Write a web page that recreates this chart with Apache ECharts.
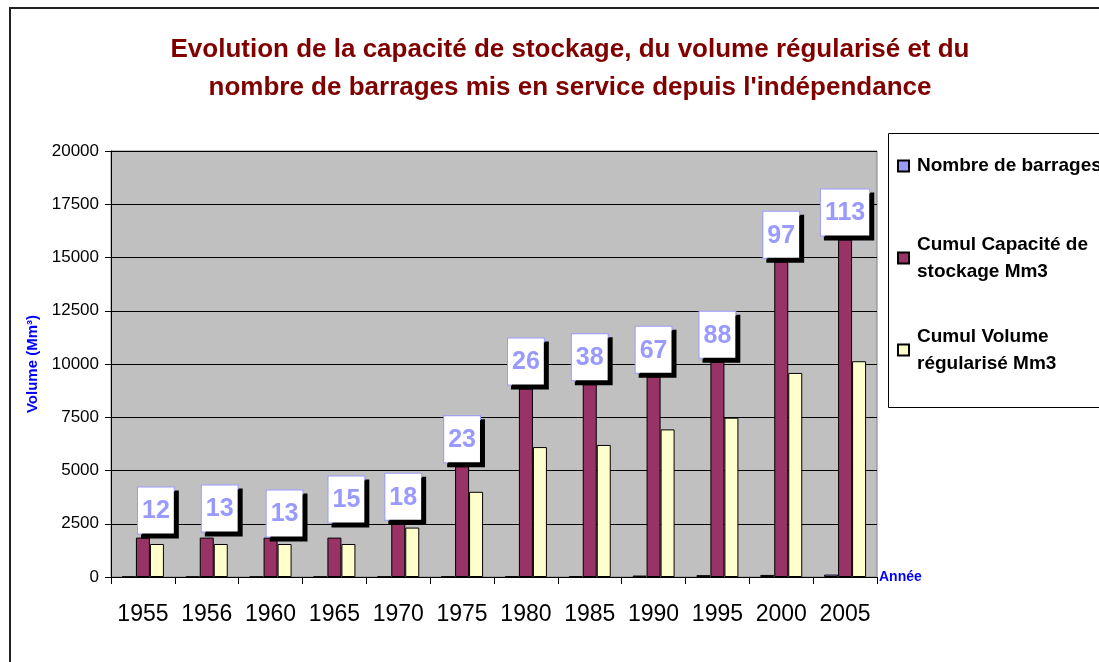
<!DOCTYPE html>
<html>
<head>
<meta charset="utf-8">
<script src="https://cdn.jsdelivr.net/npm/echarts@6/dist/echarts.min.js"></script>
<style>
  html, body { margin: 0; padding: 0; background: #fff; }
  #chart { width: 1099px; height: 662px; }
</style>
</head>
<body>
<div id="chart"></div>
<script>
// Barrages : nombre mis en service, capacité cumulée et volume régularisé (Mm3)
const years = ['1955', '1956', '1960', '1965', '1970', '1975', '1980', '1985', '1990', '1995', '2000', '2005'];
const damCount = [12, 13, 13, 15, 18, 23, 26, 38, 67, 88, 97, 113];
const storageCapacity = [1850, 1850, 1850, 1850, 2500, 5200, 8850, 9050, 9400, 10100, 14800, 15850];
const regulatedVolume = [1550, 1550, 1550, 1550, 2320, 4000, 6100, 6200, 6930, 7480, 9580, 10130];
const volumeTicks = [0, 20000, 2500]; // min, max, interval

// the count boxes were dragged by hand in the original; small nudges [dx, dy] in px
const labelNudge = [[13, 0], [13, -2], [14, 3], [12, -11], [5, 0]];

const FONT = 'Arial, "Liberation Sans", sans-serif';
const NAMES = ['Nombre de barrages', 'Cumul Capacité de stockage Mm3', 'Cumul Volume régularisé Mm3'];
const LEGEND_TEXT = {
  [NAMES[0]]: 'Nombre de barrages',
  [NAMES[1]]: 'Cumul Capacité de\nstockage Mm3',
  [NAMES[2]]: 'Cumul Volume\nrégularisé Mm3',
};

const chart = echarts.init(document.getElementById('chart'), null, { renderer: 'canvas' });

function legendFor(name, top, lines) {
  return {
    data: [name],
    left: 897,
    top: top,
    padding: 0,
    orient: 'vertical',
    icon: 'rect',
    itemWidth: 11,
    itemHeight: 11,
    itemGap: 0,
    selectedMode: false,
    formatter: (n) => LEGEND_TEXT[n],
    textStyle: {
      fontFamily: FONT,
      fontWeight: 'bold',
      fontSize: 19,
      color: '#000',
      lineHeight: 27,
      padding: lines > 1 ? [27, 0, 0, 3] : [0, 0, 0, 3],
    },
    z: 10,
  };
}

const barStyle = (color) => ({ color: color, borderColor: '#000', borderWidth: 1 });

const capacityData = storageCapacity.map((v, i) => {
  const n = labelNudge[i];
  return n ? { value: v, label: { offset: n } } : v;
});

chart.setOption({
  animation: false,
  backgroundColor: '#fff',
  title: {
    text: 'Evolution de la capacité de stockage, du volume régularisé et du\nnombre de barrages mis en service depuis l\'indépendance',
    left: 565,
    top: 26,
    textAlign: 'center',
    textStyle: {
      fontFamily: FONT,
      fontWeight: 'bold',
      fontSize: 26,
      color: '#800000',
      lineHeight: 38,
    },
  },
  legend: [
    legendFor(NAMES[0], 152.5, 1),
    legendFor(NAMES[1], 217.5, 2),
    legendFor(NAMES[2], 309.5, 2),
  ],
  graphic: [
    {
      type: 'rect',
      z: -10,
      silent: true,
      shape: { x: 10, y: 8, width: 1200, height: 800 },
      style: { fill: 'none', stroke: '#222', lineWidth: 2 },
    },
    {
      type: 'rect',
      z: 1,
      silent: true,
      shape: { x: 888.5, y: 133.5, width: 230, height: 274 },
      style: { fill: '#fff', stroke: '#000', lineWidth: 1 },
    },
  ],
  grid: {
    left: 111,
    top: 151,
    width: 766,
    height: 426,
    show: true,
    backgroundColor: '#C0C0C0',
    borderColor: '#808080',
    borderWidth: 1,
  },
  xAxis: {
    type: 'category',
    data: years,
    name: 'Année',
    nameLocation: 'end',
    nameGap: 2,
    nameTextStyle: {
      fontFamily: FONT,
      fontWeight: 'bold',
      fontSize: 14,
      color: '#0000FF',
      padding: [0, 0, 7, 0],
    },
    axisLine: { lineStyle: { color: '#000', width: 1 } },
    axisTick: { show: true, length: 7, interval: 0, lineStyle: { color: '#000' } },
    axisLabel: {
      fontFamily: FONT,
      fontSize: 23,
      color: '#000',
      margin: 26,
      interval: 0,
    },
  },
  yAxis: {
    type: 'value',
    min: volumeTicks[0],
    max: volumeTicks[1],
    interval: volumeTicks[2],
    name: 'Volume (Mm³)',
    nameLocation: 'middle',
    nameRotate: 90,
    nameGap: 70,
    nameTextStyle: {
      fontFamily: FONT,
      fontWeight: 'bold',
      fontSize: 15,
      color: '#0000FF',
    },
    axisLine: { show: true, lineStyle: { color: '#000', width: 1 } },
    axisTick: { show: true, length: 6, lineStyle: { color: '#000' } },
    axisLabel: {
      fontFamily: FONT,
      fontSize: 17,
      color: '#000',
      margin: 12,
      formatter: (v) => String(v),
    },
    splitLine: { show: true, lineStyle: { color: '#000', width: 1 } },
  },
  series: [
    {
      name: NAMES[0],
      type: 'bar',
      data: damCount,
      barWidth: 14,
      barGap: '0%',
      itemStyle: barStyle('#9999FF'),
    },
    {
      name: NAMES[1],
      type: 'bar',
      data: capacityData,
      barWidth: 14,
      barGap: '0%',
      itemStyle: barStyle('#993366'),
      label: {
        show: true,
        position: 'top',
        distance: 4,
        formatter: (p) => String(damCount[p.dataIndex]),
        fontFamily: FONT,
        fontWeight: 'bold',
        fontSize: 25,
        lineHeight: 28,
        color: '#9999FF',
        backgroundColor: '#fff',
        borderColor: '#9999FF',
        borderWidth: 1,
        padding: [10, 4, 8, 4],
        shadowColor: '#000',
        shadowBlur: 0,
        shadowOffsetX: 4,
        shadowOffsetY: 4,
      },
      z: 5,
    },
    {
      name: NAMES[2],
      type: 'bar',
      data: regulatedVolume,
      barWidth: 14,
      barGap: '0%',
      itemStyle: barStyle('#FFFFCC'),
    },
  ],
});
</script>
</body>
</html>
